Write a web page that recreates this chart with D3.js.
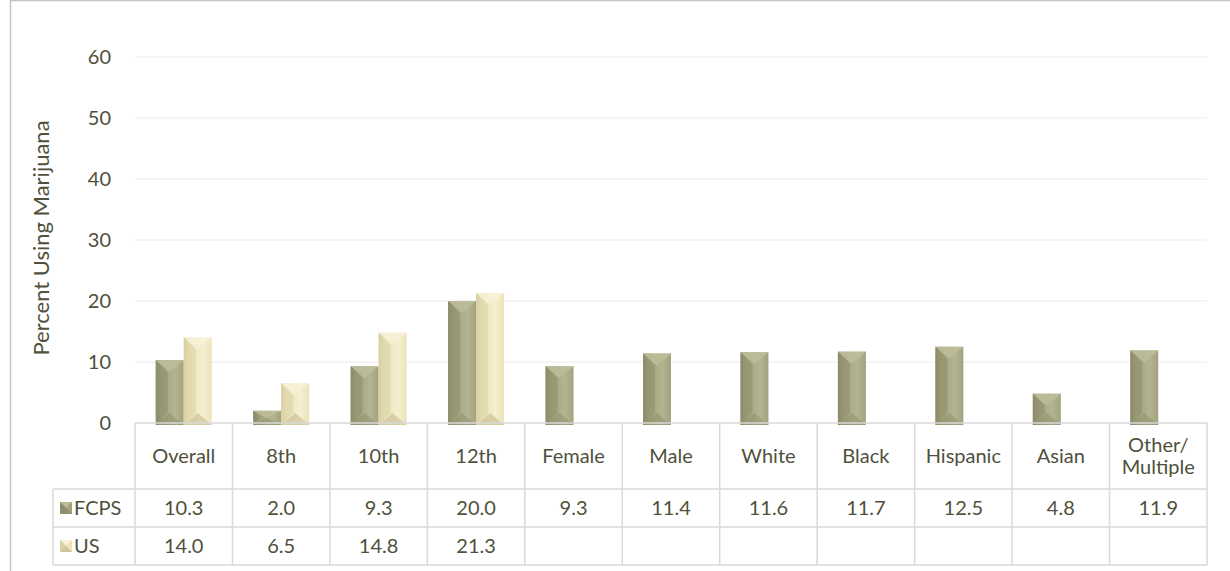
<!DOCTYPE html>
<html><head><meta charset="utf-8">
<script src="https://cdn.jsdelivr.net/npm/d3@7"></script>
<style>body{margin:0;background:#fff}svg{display:block}text{font-family:Lato,"Open Sans",sans-serif}</style>
</head><body><svg id="c" width="1230" height="571"></svg>
<script>
const categories = ["Overall","8th","10th","12th","Female","Male","White","Black","Hispanic","Asian","Other/\nMultiple"];
const seriesNames = ["FCPS","US"];
const fcps = [10.3,2.0,9.3,20.0,9.3,11.4,11.6,11.7,12.5,4.8,11.9];
const us = [14.0,6.5,14.8,21.3,null,null,null,null,null,null,null];
const yTicks = [0,10,20,30,40,50,60];
const yTitle = "Percent Using Marijuana";

(function(){
const svg = d3.select("#c");
const textCol = "#50503c";
const gridCol = "#ececec";
const tableCol = "#d9d9d9";
const fs = "20px";
const pLeft = 135, pRight = 1207, pTop = 57, pBottom = 423;

svg.append("rect").attr("x",10.5).attr("y",0.5).attr("width",1300).attr("height",700)
  .attr("fill","none").attr("stroke","#c4c4c4").attr("stroke-width",1.5);

const x = d3.scaleBand().domain(categories).range([pLeft,pRight]).paddingInner(0).paddingOuter(0);
const xs = d3.scaleBand().domain(seriesNames).range([0,x.bandwidth()]).paddingInner(0).paddingOuter(0.74);
const y = d3.scaleLinear().domain([0,60]).range([pBottom,pTop]);

svg.append("g").selectAll("line").data(yTicks.filter(t=>t>0)).join("line")
  .attr("x1",pLeft).attr("x2",pRight).attr("y1",d=>y(d)).attr("y2",d=>y(d))
  .attr("stroke",gridCol).attr("stroke-width",1.2);

const yAxis = d3.axisLeft(y).tickValues(yTicks).tickSize(0).tickPadding(24);
const ga = svg.append("g").attr("transform",`translate(${pLeft},0)`).call(yAxis);
ga.select(".domain").remove();
ga.selectAll("text").attr("fill",textCol).style("font-size",fs).style("font-family","Lato,sans-serif");

svg.append("text").attr("transform",`translate(49,${(pTop+pBottom)/2-2}) rotate(-90)`)
  .attr("text-anchor","middle").attr("fill",textCol).style("font-size","22px").text(yTitle);

const defs = svg.append("defs");
const pal = {
  FCPS:{body:"#a2a27e", light:"#b4b491", top:"#bcbc9a", dark:"#85856490", side:"#8c8c6a"},
  US:{body:"#ece3ba", light:"#f5efcf", top:"#f7f1d6", dark:"#cfc399", side:"#d9cfa4"}
};
seriesNames.forEach(s=>{
  const g = defs.append("linearGradient").attr("id","g"+s).attr("x1","0").attr("x2","1").attr("y1","0").attr("y2","0");
  g.append("stop").attr("offset","0").attr("stop-color",pal[s].side);
  g.append("stop").attr("offset","0.2").attr("stop-color",pal[s].body);
  g.append("stop").attr("offset","0.7").attr("stop-color",pal[s].light);
  g.append("stop").attr("offset","1").attr("stop-color",pal[s].body);
});

function bevelBar(g, x0, w, yT, yB, s){
  const h = yB - yT;
  if (h <= 0) return;
  const b = Math.min(w/2, h/2, 12);
  g.append("rect").attr("x",x0).attr("y",yT).attr("width",w).attr("height",h).attr("fill",`url(#g${s})`);
  g.append("path").attr("d",`M${x0},${yT}L${x0+w},${yT}L${x0+w/2},${yT+b}Z`).attr("fill",pal[s].top).attr("opacity",0.9);
  g.append("path").attr("d",`M${x0},${yB}L${x0+w},${yB}L${x0+w/2},${yB-b}Z`).attr("fill",pal[s].dark).attr("opacity",0.7);
  g.append("path").attr("d",`M${x0},${yT}L${x0+b},${yT+b}L${x0+b},${yB-b}L${x0},${yB}Z`).attr("fill",pal[s].side).attr("opacity",0.5);
}

const bars = svg.append("g");
const seriesVals = {FCPS:fcps, US:us};
seriesNames.forEach(s=>{
  seriesVals[s].forEach((v,i)=>{
    if (v==null) return;
    bevelBar(bars, x(categories[i])+xs(s), xs.bandwidth(), y(v), y(0)+2, s);
  });
});

const rowTop = pBottom, headH = 66, rowH = 38;
const tableLeft = 53;
const tg = svg.append("g").attr("stroke",tableCol).attr("stroke-width",1.5);
tg.append("line").attr("x1",pLeft).attr("x2",pRight).attr("y1",rowTop).attr("y2",rowTop);
[rowTop+headH, rowTop+headH+rowH, rowTop+headH+2*rowH].forEach(yy=>{
  tg.append("line").attr("x1",tableLeft).attr("x2",pRight).attr("y1",yy).attr("y2",yy);
});
x.domain().forEach(c=>{
  tg.append("line").attr("x1",x(c)).attr("x2",x(c)).attr("y1",rowTop).attr("y2",rowTop+headH+2*rowH);
});
tg.append("line").attr("x1",pRight).attr("x2",pRight).attr("y1",rowTop).attr("y2",rowTop+headH+2*rowH);
tg.append("line").attr("x1",tableLeft).attr("x2",tableLeft).attr("y1",rowTop+headH).attr("y2",rowTop+headH+2*rowH);

const hdr = svg.append("g").attr("fill",textCol).style("font-size",fs).attr("text-anchor","middle");
categories.forEach(c=>{
  const lines = c.split("\n");
  const cx = x(c)+x.bandwidth()/2;
  const t = hdr.append("text").attr("x",cx);
  const cy = rowTop + headH/2 + 7 - (lines.length-1)*11;
  lines.forEach((ln,k)=>t.append("tspan").attr("x",cx).attr("y",cy+k*22).text(ln));
});

seriesNames.forEach((s,r)=>{
  const cy = rowTop+headH+r*rowH+rowH/2+7;
  const vals = seriesVals[s];
  categories.forEach((c,i)=>{
    if (vals[i]==null) return;
    svg.append("text").attr("x",x(c)+x.bandwidth()/2).attr("y",cy).attr("text-anchor","middle")
      .attr("fill",textCol).style("font-size",fs).text(d3.format(".1f")(vals[i]));
  });
  const kx = 60, ky = cy-13, ks = 12;
  const kg = svg.append("g");
  kg.append("rect").attr("x",kx).attr("y",ky).attr("width",ks).attr("height",ks).attr("fill",pal[s].body);
  kg.append("path").attr("d",`M${kx},${ky}L${kx+ks},${ky}L${kx+ks/2},${ky+ks/2}Z`).attr("fill",pal[s].top);
  kg.append("path").attr("d",`M${kx},${ky+ks}L${kx+ks},${ky+ks}L${kx+ks/2},${ky+ks/2}Z`).attr("fill",pal[s].dark);
  kg.append("path").attr("d",`M${kx},${ky}L${kx+ks/2},${ky+ks/2}L${kx},${ky+ks}Z`).attr("fill",pal[s].side);
  svg.append("text").attr("x",kx+ks+2).attr("y",cy).attr("fill",textCol).style("font-size",fs).text(s);
});
})();
</script></body></html>
